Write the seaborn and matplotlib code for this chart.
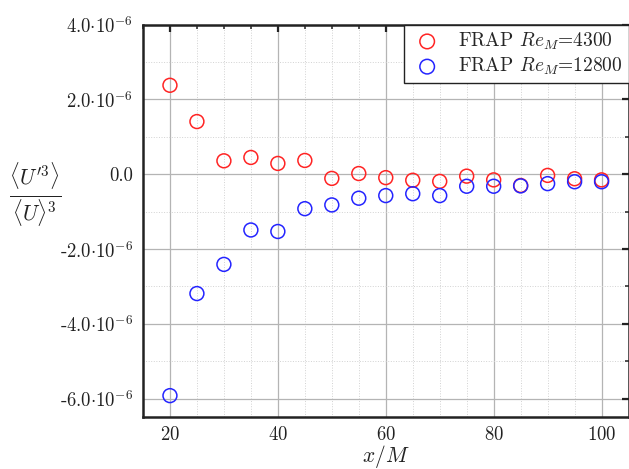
import matplotlib
matplotlib.use("Agg")
import matplotlib.pyplot as plt
import seaborn as sns
import pandas as pd
from matplotlib.ticker import MultipleLocator, FixedLocator, FixedFormatter

# Streamwise positions x/M and normalised third moment for two Reynolds numbers
x_over_m = [20, 25, 30, 35, 40, 45, 50, 55, 60, 65, 70, 75, 80, 85, 90, 95, 100]
skew_re4300 = [2.38e-6, 1.41e-6, 0.36e-6, 0.45e-6, 0.29e-6, 0.37e-6, -0.11e-6,
               0.02e-6, -0.09e-6, -0.16e-6, -0.19e-6, -0.05e-6, -0.15e-6,
               -0.30e-6, -0.03e-6, -0.12e-6, -0.15e-6]
skew_re12800 = [-5.92e-6, -3.19e-6, -2.41e-6, -1.49e-6, -1.53e-6, -0.92e-6,
                -0.82e-6, -0.64e-6, -0.57e-6, -0.52e-6, -0.57e-6, -0.32e-6,
                -0.32e-6, -0.31e-6, -0.25e-6, -0.20e-6, -0.20e-6]
series_labels = [r"FRAP $Re_M$=4300", r"FRAP $Re_M$=12800"]
series_colors = ["#ff2424", "#2424ff"]

y_tick_values = [-6e-6, -4e-6, -2e-6, 0.0, 2e-6, 4e-6]
y_tick_labels = [r"-6.0$\cdot$10$^{\mathregular{-6}}$", r"-4.0$\cdot$10$^{\mathregular{-6}}$",
                 r"-2.0$\cdot$10$^{\mathregular{-6}}$", "0.0",
                 r"2.0$\cdot$10$^{\mathregular{-6}}$", r"4.0$\cdot$10$^{\mathregular{-6}}$"]

sns.set_theme(style="white")
plt.rcParams["font.family"] = ["serif"]
plt.rcParams["font.serif"] = ["cmr10", "DejaVu Serif"]
plt.rcParams["mathtext.fontset"] = "cm"
plt.rcParams["axes.unicode_minus"] = False
plt.rcParams["axes.formatter.use_mathtext"] = True

fig = plt.figure(figsize=(6.29, 4.69), dpi=100)
ax = fig.add_axes([0.2273, 0.1102, 0.7720, 0.8371])

df = pd.DataFrame({
    "x": x_over_m * 2,
    "y": skew_re4300 + skew_re12800,
    "series": [series_labels[0]] * len(x_over_m) + [series_labels[1]] * len(x_over_m),
})

for label, color in zip(series_labels, series_colors):
    sns.scatterplot(data=df[df["series"] == label], x="x", y="y", ax=ax,
                    marker="o", s=100, facecolor="none", edgecolor=color,
                    linewidth=1.1, label=label, zorder=3)

ax.set_xlim(15, 105)
ax.set_ylim(-6.5e-6, 4e-6)
ax.xaxis.set_major_locator(MultipleLocator(20))
ax.xaxis.set_minor_locator(MultipleLocator(5))
ax.yaxis.set_major_locator(FixedLocator(y_tick_values))
ax.yaxis.set_major_formatter(FixedFormatter(y_tick_labels))
ax.yaxis.set_minor_locator(MultipleLocator(1e-6))

ax.grid(which="major", color="#b4b4b4", linewidth=0.9, linestyle="-")
ax.grid(which="minor", color="#d2d2d2", linewidth=0.7, linestyle=":")
ax.set_axisbelow(True)

ax.tick_params(which="both", direction="in", top=True, right=True,
               colors="#222222", labelcolor="#222222")
ax.tick_params(which="major", length=5, width=1.6, labelsize=13.5, pad=7)
ax.tick_params(axis="x", which="major", pad=6)
ax.tick_params(which="minor", length=3, width=1.1)
for side in ["left", "bottom", "top", "right"]:
    ax.spines[side].set_color("#222222")
    ax.spines[side].set_linewidth(1.8)

ax.set_xlabel(r"$x/M$", fontsize=15.5, color="#222222")
ax.xaxis.set_label_coords(0.5, -0.066)
ax.set_ylabel(r"$\frac{\langle U^{\prime 3}\rangle}{\langle U\rangle^{3}}$",
              fontsize=22, rotation=0, color="#222222", labelpad=0)
ax.yaxis.set_label_coords(-0.222, 0.48)

leg = ax.legend(loc="upper right", borderaxespad=0.0, fontsize=14,
                frameon=True, fancybox=False, framealpha=1.0,
                handletextpad=0.7, borderpad=0.3, labelspacing=0.2,
                handlelength=1.8, markerscale=1.05)
leg.get_frame().set_edgecolor("#222222")
leg.get_frame().set_linewidth(1.0)

fig.savefig("out.png", dpi=100)
